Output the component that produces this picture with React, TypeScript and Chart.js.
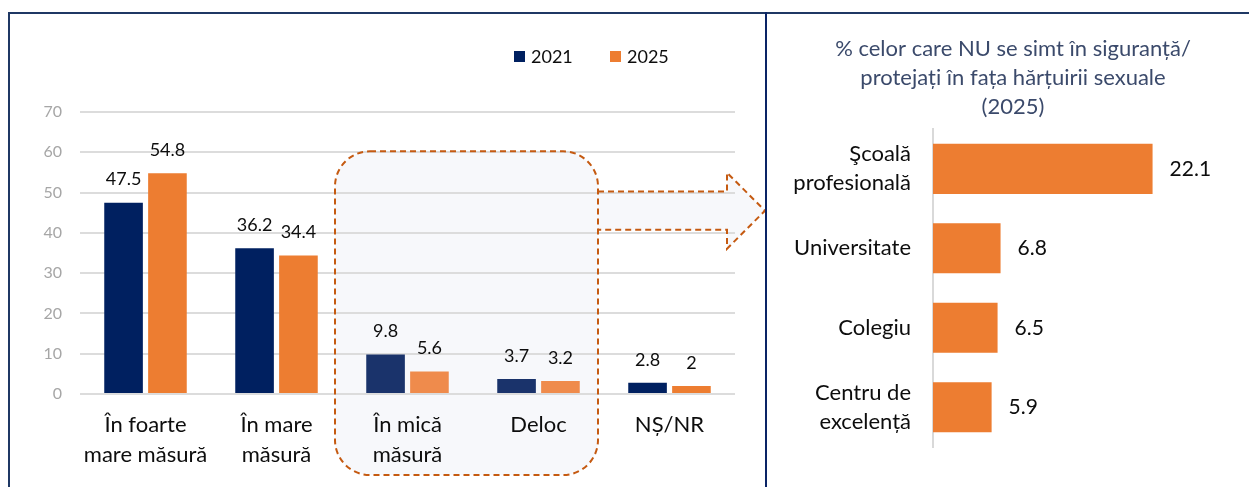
import React, { useEffect, useRef } from 'react';
import { Chart, registerables } from 'chart.js';

Chart.register(...registerables);

// ---------- data ----------
const categories: (string | string[])[] = [
  ['În foarte', 'mare măsură'],
  ['În mare', 'măsură'],
  ['În mică', 'măsură'],
  'Deloc',
  'NȘ/NR',
];
const seriesNames = ['2021', '2025'];
const values2021 = [47.5, 36.2, 9.8, 3.7, 2.8];
const values2025 = [54.8, 34.4, 5.6, 3.2, 2];
const yMin = 0;
const yMax = 70;
const yStep = 10;
const highlighted = [2, 3]; // categories inside the dashed box

const schoolTypes: (string | string[])[] = [
  ['Şcoală', 'profesională'],
  'Universitate',
  'Colegiu',
  ['Centru de', 'excelență'],
];
const schoolValues = [22.1, 6.8, 6.5, 5.9];
const rightTitle = [
  '% celor care NU se simt în siguranță/',
  'protejați în fața hărțuirii sexuale',
  '(2025)',
];

// ---------- style ----------
const FONT = "Lato, 'Open Sans', sans-serif";
const NAVY = '#002060';
const NAVY_SOFT = '#1a336b';
const ORANGE = '#ed7d31';
const ORANGE_SOFT = '#ef8b4c';
const FRAME = '#1f3864';
const DASH = '#c55a11';
const BOX_FILL = '#f7f8fb';

const valueLabels = {
  id: 'valueLabels',
  afterDatasetsDraw(chart: any, _args: any, opts: any) {
    const ctx = chart.ctx;
    ctx.save();
    ctx.font = `${opts.size}px ${FONT}`;
    ctx.fillStyle = opts.color;
    ctx.textBaseline = 'middle';
    chart.data.datasets.forEach((ds: any, i: number) => {
      const meta = chart.getDatasetMeta(i);
      meta.data.forEach((el: any, j: number) => {
        const v = String(ds.data[j]);
        if (opts.horizontal) {
          ctx.textAlign = 'left';
          ctx.fillText(v, el.x + opts.offset, el.y);
        } else {
          ctx.textAlign = 'center';
          ctx.fillText(v, el.x, el.y - opts.offset);
        }
      });
    });
    ctx.restore();
  },
};

function boxGeometry(chart: any) {
  const xs = chart.scales.x;
  const ys = chart.scales.y;
  const a = highlighted[0];
  const b = highlighted[highlighted.length - 1];
  const left = (xs.getPixelForValue(a - 1) + xs.getPixelForValue(a)) / 2 - 7;
  const right = (xs.getPixelForValue(b) + xs.getPixelForValue(b + 1)) / 2 - 6;
  const top = ys.getPixelForValue(60) - 1;
  const bottom = chart.height - 12;
  const bodyTop = ys.getPixelForValue(50) - 1;
  const bodyBot = ys.getPixelForValue(40) - 3;
  const headX = right + 129;
  const tipX = chart.width - 1;
  const mid = (bodyTop + bodyBot) / 2;
  return { left, right, top, bottom, bodyTop, bodyBot, headX, tipX, mid };
}

function arrowPath(ctx: CanvasRenderingContext2D, g: any, close: boolean) {
  ctx.beginPath();
  ctx.moveTo(g.right, g.bodyTop);
  ctx.lineTo(g.headX, g.bodyTop);
  ctx.lineTo(g.headX, g.mid - 38);
  ctx.lineTo(g.tipX, g.mid);
  ctx.lineTo(g.headX, g.mid + 38);
  ctx.lineTo(g.headX, g.bodyBot);
  ctx.lineTo(g.right, g.bodyBot);
  if (close) ctx.closePath();
}

const highlightBox = {
  id: 'highlightBox',
  beforeDraw(chart: any) {
    const ctx = chart.ctx;
    const g = boxGeometry(chart);
    ctx.save();
    ctx.fillStyle = BOX_FILL;
    ctx.beginPath();
    (ctx as any).roundRect(g.left, g.top, g.right - g.left, g.bottom - g.top, 35);
    ctx.fill();
    arrowPath(ctx, g, true);
    ctx.fill();
    ctx.restore();
  },
  afterDraw(chart: any) {
    const ctx = chart.ctx;
    const g = boxGeometry(chart);
    ctx.save();
    ctx.strokeStyle = DASH;
    ctx.lineWidth = 2;
    ctx.setLineDash([6, 4]);
    ctx.beginPath();
    (ctx as any).roundRect(g.left, g.top, g.right - g.left, g.bottom - g.top, 35);
    ctx.stroke();
    arrowPath(ctx, g, false);
    ctx.stroke();
    ctx.restore();
  },
};

export default function App() {
  const leftRef = useRef<HTMLCanvasElement>(null);
  const rightRef = useRef<HTMLCanvasElement>(null);

  useEffect(() => {
    const yTicks: number[] = [];
    for (let v = yMin; v <= yMax; v += yStep) yTicks.push(v);

    const left = new Chart(leftRef.current as HTMLCanvasElement, {
      type: 'bar',
      data: {
        labels: categories as any,
        datasets: [
          {
            label: seriesNames[0],
            data: values2021,
            backgroundColor: values2021.map((_, i) => (highlighted.includes(i) ? NAVY_SOFT : NAVY)),
            barPercentage: 0.88,
            categoryPercentage: 0.67,
          },
          {
            label: seriesNames[1],
            data: values2025,
            backgroundColor: values2025.map((_, i) => (highlighted.includes(i) ? ORANGE_SOFT : ORANGE)),
            barPercentage: 0.88,
            categoryPercentage: 0.67,
          },
        ],
      },
      options: {
        responsive: false,
        animation: false,
        devicePixelRatio: 1,
        layout: { padding: { left: 0, right: 31, top: 112, bottom: 0 } },
        plugins: {
          legend: { display: false },
          tooltip: { enabled: false },
          valueLabels: { size: 18, color: '#0d0d0d', offset: 23, horizontal: false },
        } as any,
        scales: {
          x: {
            grid: { display: false, drawTicks: false },
            border: { display: false },
            ticks: {
              color: '#0d0d0d',
              font: { family: FONT, size: 22, lineHeight: 1.36 },
              padding: 16,
              maxRotation: 0,
              autoSkip: false,
            },
            afterFit: (s: any) => { s.height = 93; s.paddingLeft = 0; s.paddingRight = 0; },
          },
          y: {
            min: yMin,
            max: yMax,
            grid: { color: '#dcdcdc', lineWidth: 2, drawTicks: false },
            border: { display: false },
            afterBuildTicks: (s: any) => { s.ticks = yTicks.map((v) => ({ value: v })); },
            ticks: {
              color: '#a6a6a6',
              font: { family: FONT, size: 16 },
              padding: 18,
            },
            afterFit: (s: any) => { s.width = 80; },
          },
        },
      },
      plugins: [highlightBox, valueLabels],
    });

    const right = new Chart(rightRef.current as HTMLCanvasElement, {
      type: 'bar',
      data: {
        labels: schoolTypes as any,
        datasets: [
          {
            label: seriesNames[1],
            data: schoolValues,
            backgroundColor: ORANGE,
            barPercentage: 0.63,
            categoryPercentage: 1,
          },
        ],
      },
      options: {
        indexAxis: 'y',
        responsive: false,
        animation: false,
        devicePixelRatio: 1,
        layout: { padding: { left: 19, right: 8, top: 0, bottom: 40 } },
        plugins: {
          legend: { display: false },
          tooltip: { enabled: false },
          title: {
            display: true,
            text: rightTitle,
            color: '#3b4a6b',
            font: { family: FONT, size: 22, weight: 'normal', lineHeight: 1.32 },
            padding: { top: 34.5, bottom: 7.5 },
          },
          valueLabels: { size: 21, color: '#0d0d0d', offset: 17, horizontal: true },
        } as any,
        scales: {
          x: { display: false, min: 0, max: 31 },
          y: {
            grid: { display: false, drawTicks: false },
            border: { display: true, color: '#d9d9d9', width: 2 },
            ticks: {
              color: '#0d0d0d',
              font: { family: FONT, size: 22, lineHeight: 1.32 },
              padding: 22,
            },
            afterFit: (s: any) => { s.width = 148; s.paddingTop = 0; s.paddingBottom = 0; },
          },
        },
      },
      plugins: [valueLabels],
    });

    return () => {
      left.destroy();
      right.destroy();
    };
  }, []);

  const legendItem = (x: number, color: string, text: string) => (
    <div style={{ position: 'absolute', left: x, top: 46, display: 'flex', alignItems: 'center', height: 20 }}>
      <span style={{ width: 11, height: 11, background: color, display: 'inline-block', marginRight: 6 }} />
      <span style={{ fontSize: 18, color: '#0d0d0d', fontFamily: FONT }}>{text}</span>
    </div>
  );

  return (
    <div style={{ position: 'fixed', left: 0, top: 0, width: 1249, height: 487, background: '#fff', overflow: 'hidden', fontFamily: FONT }}>
      <canvas ref={leftRef} width={766} height={487} style={{ position: 'absolute', left: 0, top: 0 }} />
      <canvas ref={rightRef} width={483} height={487} style={{ position: 'absolute', left: 766, top: 0 }} />
      <div style={{ position: 'absolute', left: 8, top: 12, width: 1249, height: 2, background: FRAME }} />
      <div style={{ position: 'absolute', left: 8, top: 12, width: 2, height: 487, background: FRAME }} />
      <div style={{ position: 'absolute', left: 765, top: 12, width: 2, height: 487, background: '#0a2466' }} />
      {legendItem(514, NAVY, seriesNames[0])}
      {legendItem(610, ORANGE, seriesNames[1])}
    </div>
  );
}
